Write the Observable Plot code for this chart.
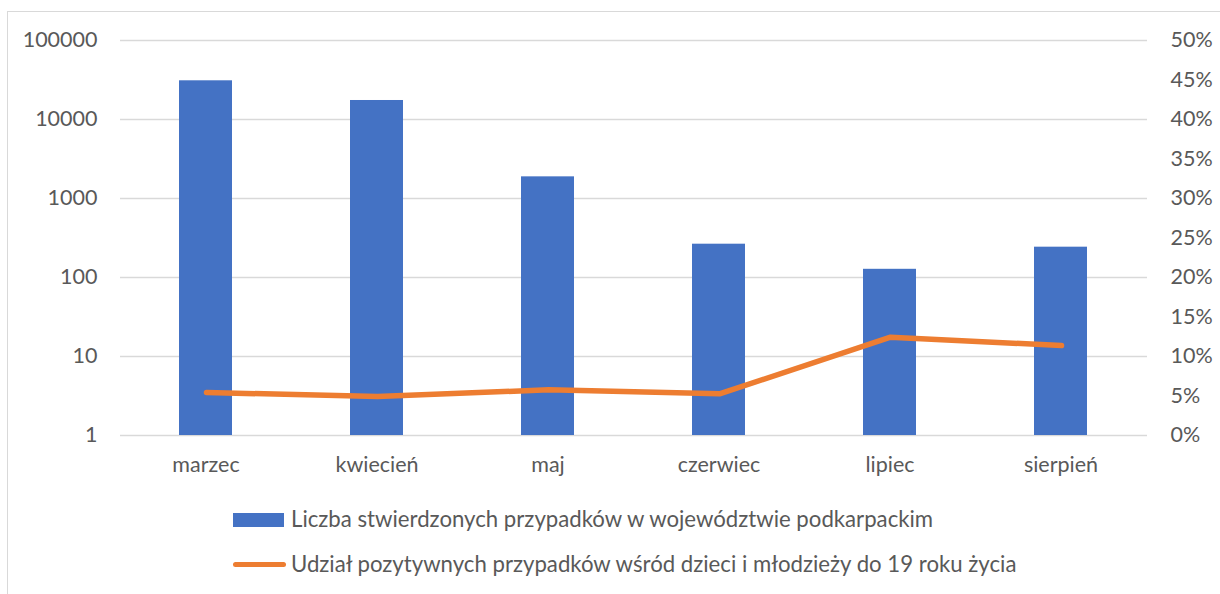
<!DOCTYPE html>
<html>
<head>
<meta charset="utf-8">
<script src="https://cdn.jsdelivr.net/npm/d3@7"></script>
<script src="https://cdn.jsdelivr.net/npm/@observablehq/plot@0.6"></script>
<style>
  html, body { margin: 0; padding: 0; background: #fff; }
  body { width: 1220px; height: 594px; overflow: hidden; position: relative; font-family: Lato, "Liberation Sans", sans-serif; }
  #frame { position: absolute; left: 7px; top: 11px; width: 1400px; height: 800px; border-left: 1.5px solid #d9d9d9; border-top: 1.5px solid #d9d9d9; }
  #chart { position: absolute; left: 0; top: 0; width: 1220px; height: 480px; }
  #chart svg { position: absolute; left: 0; top: 0; }
  .leg-text { position: absolute; left: 291px; color: #595959; font-size: 22.2px; line-height: 24px; white-space: nowrap; }
  .sw-bar { position: absolute; left: 233px; top: 513px; width: 51px; height: 14px; background: #4472C4; }
  .sw-line { position: absolute; left: 233px; top: 561.5px; width: 53px; height: 5px; border-radius: 3px; background: #ED7D31; }
</style>
</head>
<body>
<div id="frame"></div>
<div id="chart"></div>
<div class="sw-bar"></div>
<div class="leg-text" id="leg1" style="top:507px"></div>
<div class="sw-line"></div>
<div class="leg-text" id="leg2" style="top:552px"></div>
<script>
const months = ["marzec", "kwiecień", "maj", "czerwiec", "lipiec", "sierpień"];
const cases = [30900, 17400, 1880, 264, 127, 242];
const childShare = [0.0544, 0.0494, 0.0578, 0.0527, 0.1244, 0.1139];
const leftTicks = [1, 10, 100, 1000, 10000, 100000];
const rightTicks = [0, 0.05, 0.10, 0.15, 0.20, 0.25, 0.30, 0.35, 0.40, 0.45, 0.50];
const seriesNames = [
  "Liczba stwierdzonych przypadków w województwie podkarpackim",
  "Udział pozytywnych przypadków wśród dzieci i młodzieży do 19 roku życia"
];

const rows = months.map((m, i) => ({month: m, cases: cases[i], share: childShare[i]}));

const W = 1220, H = 480;
const common = {
  width: W, height: H,
  marginLeft: 120, marginRight: 73, marginTop: 40, marginBottom: 45,
  style: {fontFamily: "Lato, 'Liberation Sans', sans-serif", fontSize: "21.5px", color: "#595959", background: "transparent", overflow: "visible"}
};

const bars = Plot.plot({
  ...common,
  x: {type: "band", domain: months, paddingInner: 0.69, paddingOuter: 0.345, label: null},
  y: {type: "log", domain: [1, 100000], label: null},
  marks: [
    Plot.ruleY(leftTicks, {y: d => d, stroke: "#d9d9d9", strokeWidth: 1.5}),
    Plot.barY(rows, {x: "month", y1: 1, y2: "cases", fill: "#4472C4"}),
    Plot.axisY({ticks: leftTicks, tickFormat: d3.format("d"), tickSize: 0, tickPadding: 23, fill: "#595959", label: null}),
    Plot.axisX({tickSize: 0, tickPadding: 21, fill: "#595959", label: null})
  ]
});

const line = Plot.plot({
  ...common,
  x: {type: "point", domain: months, padding: 0.5, axis: null},
  y: {type: "linear", domain: [0, 0.5], label: null},
  marks: [
    Plot.line(rows, {x: "month", y: "share", stroke: "#ED7D31", strokeWidth: 5.5, strokeLinecap: "round", strokeLinejoin: "round"}),
    Plot.axisY({anchor: "right", ticks: rightTicks, tickFormat: d3.format(".0%"), tickSize: 0, tickPadding: 23, fill: "#595959", label: null})
  ]
});

const chart = document.getElementById("chart");
chart.appendChild(bars);
chart.appendChild(line);
document.getElementById("leg1").textContent = seriesNames[0];
document.getElementById("leg2").textContent = seriesNames[1];
</script>
</body>
</html>
